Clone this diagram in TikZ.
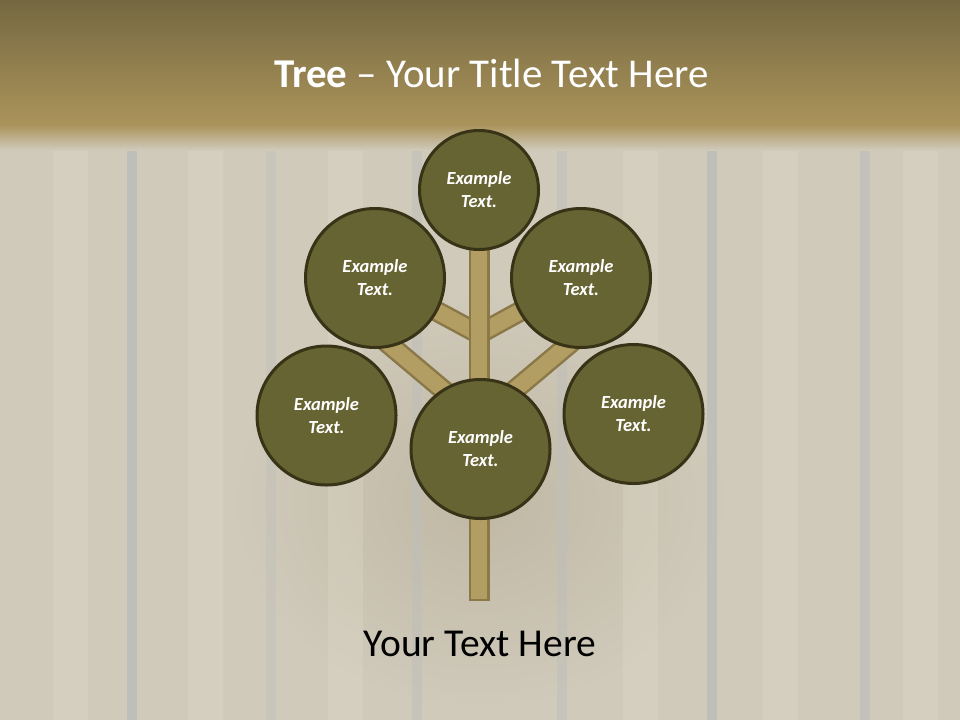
\documentclass[tikz,border=0pt]{standalone}
\usepackage{fontspec}
\setmainfont{Carlito}
\usepackage{tikz}
\usetikzlibrary{calc}
\usetikzlibrary{positioning}
\definecolor{barkbrown}{RGB}{178, 157, 98}
\definecolor{barkedge}{RGB}{138, 120, 72}
\definecolor{leafolive}{RGB}{103, 100, 51}
\definecolor{leafedge}{RGB}{56, 50, 22}
\definecolor{woodpale}{RGB}{208, 202, 187}
\definecolor{woodshade}{RGB}{192, 184, 164}
\definecolor{woodgap}{RGB}{190, 190, 186}
\definecolor{woodgrain}{RGB}{224, 219, 203}
\definecolor{bandtop}{RGB}{117, 104, 65}
\definecolor{bandlow}{RGB}{171, 148, 91}
\pgfdeclarelayer{wood}
\pgfdeclarelayer{limbs}
\pgfsetlayers{wood,limbs,main}
\tikzset{
  leaf/.style={circle, draw=leafedge, line width=0.06cm, fill=leafolive, text=white,
               align=center, inner sep=0pt, minimum size=2.78cm,
               font=\fontsize{10.5}{13}\selectfont\bfseries\itshape},
  budleaf/.style={leaf, minimum size=2.38cm},
  limb/.style={draw=barkedge, line width=0.05cm, double=barkbrown, double distance=0.32cm},
  trunk/.style={limb, line cap=rect}
}

\begin{document}
\begin{tikzpicture}
            % Frame to fix the page:
            \useasboundingbox                                     ( 0.00, 0.00) rectangle (19.20,-14.40);
            % Leaves
            \node[budleaf] (crown)    at ( 9.58,-3.80) {Example\\Text.};
            \node[leaf]    (upleft)   at ( 7.50,-5.56) {Example\\Text.};
            \node[leaf]    (upright)  at (11.62,-5.56) {Example\\Text.};
            \node[leaf]    (lowleft)  at ( 6.53,-8.31) {Example\\Text.};
            \node[leaf]    (lowright) at (12.67,-8.28) {Example\\Text.};
            \node[leaf]    (heart)    at ( 9.61,-8.98) {Example\\Text.};
            % Branch points
            \coordinate (fork)  at ( 9.58,-6.68);
            \coordinate (knot)  at ( 9.58,-8.40);
            \coordinate (twigL) at ( 7.44,-6.60);
            \coordinate (twigR) at (11.72,-6.60);
            \coordinate (root)  at ( 9.58,-11.81);
            % Trunk & branches
            \begin{pgfonlayer}{limbs}
                \draw[limb]  (fork) -- (upleft.center);
                \draw[limb]  (fork) -- (upright.center);
                \draw[limb]  (knot) -- (twigL);
                \draw[limb]  (knot) -- (twigR);
                \draw[trunk] (crown.center) -- (root);
            \end{pgfonlayer}
            % Wooden boards & header band
            \begin{pgfonlayer}{wood}
                \fill[woodpale]                                   ( 0.00, 0.00) rectangle (19.20,-14.40);
                \shade[inner color=woodshade, outer color=woodpale] ( 9.60,-10.00) ellipse (5.00 and 4.20);
                \foreach \gx in {1.40, 4.10, 6.90, 12.80, 15.60, 18.40}
                    \fill[woodgrain, opacity=0.30]                (\gx-0.35,-2.50) rectangle (\gx+0.35,-14.40);
                \foreach \gx/\op in {2.64/0.9, 5.42/0.4, 8.34/0.5, 11.24/0.5, 14.24/0.9, 17.30/0.7}
                    \fill[woodgap, opacity=\op]                   (\gx-0.10,-2.50) rectangle (\gx+0.10,-14.40);
                \shade[top color=bandtop, bottom color=bandlow]  ( 0.00, 0.00) rectangle (19.20,-2.50);
                \shade[top color=bandlow, bottom color=woodpale] ( 0.00,-2.50) rectangle (19.20,-3.00);
            \end{pgfonlayer}
            % Title & caption
            \node[text=white, anchor=base, font=\fontsize{23.3}{28}\selectfont] (title) at ( 9.83,-1.74)
                 {\textbf{Tree} -- Your Title Text Here};
            \node[text=black, anchor=base, font=\fontsize{22.5}{27}\selectfont] (caption) at ( 9.60,-13.12)
                 {Your Text Here};
        \end{tikzpicture}
\end{document}
